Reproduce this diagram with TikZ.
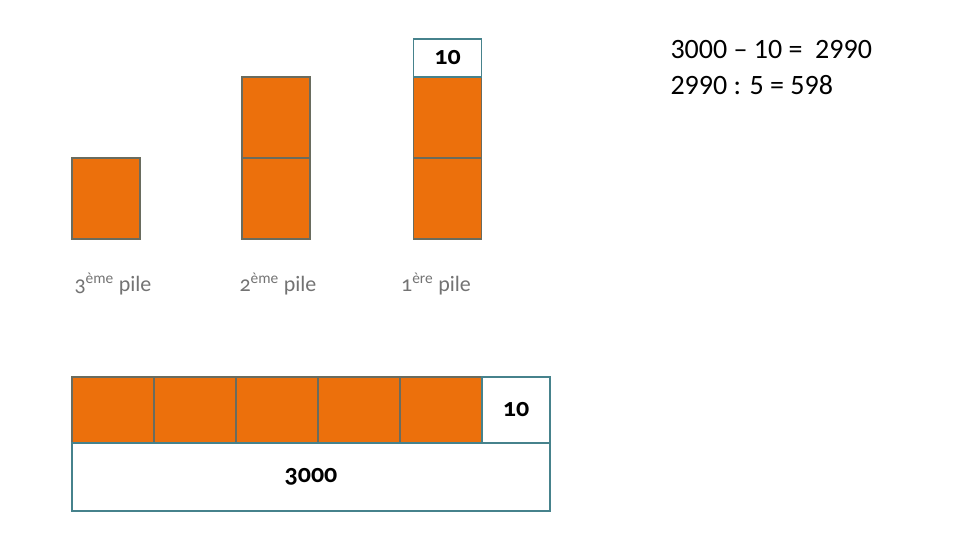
\documentclass[tikz,border=0pt]{standalone}
\usepackage{fontspec}
\setmainfont{Carlito}
\newfontfamily\oldnum[Numbers=OldStyle]{Carlito}
\usetikzlibrary{positioning}
\definecolor{boxorange}{RGB}{236,112,12}
\definecolor{boxedge}{RGB}{105,108,95}
\definecolor{tealedge}{RGB}{70,130,140}
\definecolor{labelgrey}{RGB}{115,115,115}

\begin{document}
\begin{tikzpicture}[x=1pt, y=-1pt,
    part/.style={draw=boxedge, fill=boxorange, line width=1.2pt, inner sep=0pt,
                 minimum width=68pt, minimum height=81pt},
    cell/.style={draw=boxedge, fill=boxorange, line width=1.2pt, inner sep=0pt,
                 minimum width=82pt, minimum height=66pt},
    extra/.style={draw=tealedge, fill=white, line width=1.2pt, inner sep=0pt,
                  font=\oldnum\bfseries\fontsize{26}{26}\selectfont},
    pilelabel/.style={text=labelgrey, font=\oldnum\fontsize{22}{22}\selectfont},
    calc/.style={anchor=west, font=\fontsize{28}{28}\selectfont}]
    \useasboundingbox (0,0) rectangle (960,540);

    % 3eme pile
    \node[part] (p3a) at (106,198.5) {};
    % 2eme pile
    \node[part] (p2a) at (276,198.5) {};
    \node[part] (p2b) at (276,117.5) {};
    % 1ere pile
    \node[part] (p1a) at (447.5,198.5) {};
    \node[part] (p1b) at (447.5,117.5) {};
    \node[extra, minimum width=68pt, minimum height=38pt] (p1c) at (447.5,58) {10};

    % Labels
    \node[pilelabel] (l3) at (113,284) {3\textsuperscript{ème} pile};
    \node[pilelabel] (l2) at (278,284) {2\textsuperscript{ème} pile};
    \node[pilelabel] (l1) at (436,284) {1\textsuperscript{ère} pile};

    % Bottom bar
    \foreach \i in {0,...,4}
        \node[cell] (c\i) at (113+82*\i,410) {};
    \node[extra, minimum width=68pt, minimum height=66pt] (c5) at (516,410) {10};
    \node[extra, minimum width=478pt, minimum height=68pt] (total) at (311,477) {3000};

    % Calculations
    \node[calc] (eq1) at (667,50) {3000 – 10 =\ \ 2990};
    \node[calc] (eq2) at (667,85) {2990 : 5 = 598};
\end{tikzpicture}
\end{document}
